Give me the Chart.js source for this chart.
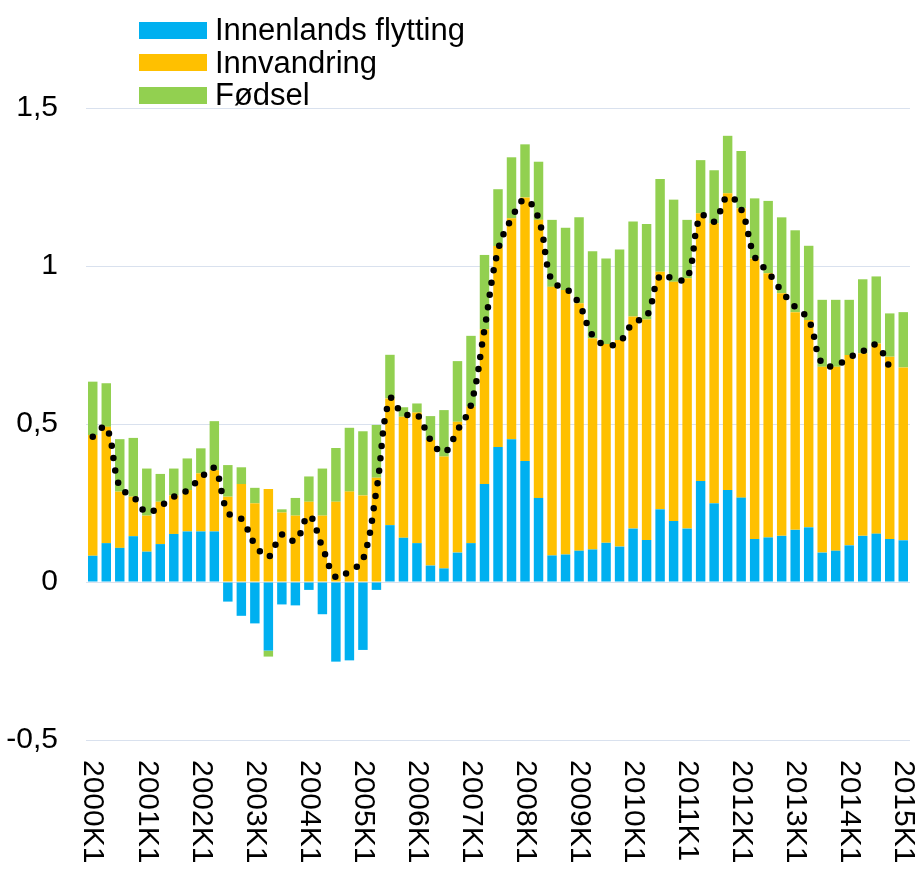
<!DOCTYPE html>
<html>
<head>
<meta charset="utf-8">
<script src="https://cdn.jsdelivr.net/npm/chart.js@4"></script>
<style>
    body { margin: 0; background: #fff; }
    .wrap { position: relative; width: 920px; height: 870px; }
    .legend { position: absolute; left: 139px; top: 14px; font-family: "Liberation Sans", Arial, sans-serif; font-size: 31px; color: #000; }
    .legend div { height: 32.5px; line-height: 32.5px; display: flex; align-items: center; }
    .legend span.box { display: inline-block; width: 68px; height: 17px; margin-right: 8px; }
</style>
</head>
<body>
<div class="wrap">
    <canvas id="chart" width="920" height="870"></canvas>
    <div class="legend">
        <div><span class="box" style="background:#00B0F0"></span>Innenlands flytting</div>
        <div><span class="box" style="background:#FFC000"></span>Innvandring</div>
        <div><span class="box" style="background:#92D050"></span>Fødsel</div>
    </div>
</div>
<script>
// Quarters 2000K1 .. 2015K1
const years = [2000, 2001, 2002, 2003, 2004, 2005, 2006, 2007, 2008, 2009, 2010, 2011, 2012, 2013, 2014, 2015];
const quarters = [];
years.forEach(function(y) {
    for (let q = 1; q <= 4; q++) {
        if (y === 2015 && q > 1) break;
        quarters.push(y + 'K' + q);
    }
});

const innenlands = [
    0.083, 0.123, 0.108, 0.145, 0.096, 0.120, 0.152, 0.160, 0.160, 0.160,
    -0.062, -0.107, -0.131, -0.217, -0.071, -0.074, -0.025, -0.102, -0.252, -0.248,
    -0.215, -0.025, 0.180, 0.140, 0.123, 0.052, 0.043, 0.093, 0.123, 0.310,
    0.427, 0.452, 0.383, 0.266, 0.084, 0.087, 0.099, 0.103, 0.124, 0.112,
    0.169, 0.133, 0.230, 0.193, 0.169, 0.320, 0.249, 0.291, 0.267, 0.136,
    0.141, 0.146, 0.165, 0.173, 0.093, 0.099, 0.116, 0.146, 0.153, 0.136,
    0.132
];
const innvandring = [
    0.382, 0.368, 0.178, 0.125, 0.114, 0.134, 0.122, 0.131, 0.184, 0.194,
    0.270, 0.310, 0.249, 0.294, 0.220, 0.210, 0.254, 0.210, 0.254, 0.286,
    0.274, 0.330, 0.401, 0.383, 0.413, 0.397, 0.354, 0.414, 0.432, 0.490,
    0.636, 0.699, 0.834, 0.880, 0.850, 0.837, 0.783, 0.668, 0.629, 0.654,
    0.671, 0.698, 0.752, 0.757, 0.792, 0.847, 0.886, 0.939, 0.916, 0.888,
    0.836, 0.768, 0.689, 0.656, 0.588, 0.582, 0.602, 0.578, 0.602, 0.577,
    0.547
];
const fodsel = [
    0.169, 0.138, 0.166, 0.186, 0.149, 0.088, 0.085, 0.100, 0.079, 0.155,
    0.100, 0.053, 0.049, -0.019, 0.010, 0.056, 0.080, 0.149, 0.170, 0.202,
    0.203, 0.167, 0.138, 0.030, 0.029, 0.076, 0.147, 0.192, 0.224, 0.235,
    0.180, 0.193, 0.168, 0.184, 0.212, 0.197, 0.272, 0.276, 0.271, 0.286,
    0.301, 0.302, 0.293, 0.260, 0.185, 0.168, 0.168, 0.182, 0.181, 0.190,
    0.229, 0.240, 0.259, 0.235, 0.212, 0.212, 0.175, 0.234, 0.212, 0.137,
    0.175
];
// Dotted line (net)
const nettoLinje = [
    0.46, 0.49, 0.30, 0.27, 0.22, 0.24, 0.27, 0.29, 0.33, 0.36,
    0.22, 0.20, 0.12, 0.08, 0.15, 0.13, 0.21, 0.11, 0.015, 0.035,
    0.07, 0.29, 0.58, 0.53, 0.53, 0.45, 0.41, 0.48, 0.56, 0.80,
    1.05, 1.15, 1.21, 1.15, 0.95, 0.93, 0.88, 0.78, 0.75, 0.76,
    0.82, 0.84, 0.97, 0.96, 0.96, 1.16, 1.14, 1.22, 1.18, 1.03,
    0.98, 0.92, 0.87, 0.83, 0.69, 0.685, 0.71, 0.73, 0.75, 0.68,
    null
];
const yTicks = [-0.5, 0, 0.5, 1, 1.5];

const FONT = '"Liberation Sans", Arial, sans-serif';

// Draw x labels rotated clockwise (top-to-bottom), one per year
const xLabelPlugin = {
    id: 'xLabels',
    afterDraw: function(chart) {
        const ctx = chart.ctx;
        const xs = chart.scales.x;
        ctx.save();
        ctx.font = '30px ' + FONT;
        ctx.fillStyle = '#000';
        ctx.textAlign = 'left';
        ctx.textBaseline = 'middle';
        quarters.forEach(function(lbl, i) {
            if (i % 4 !== 0) return;
            const x = xs.getPixelForValue(i);
            ctx.save();
            ctx.translate(x, 760);
            ctx.rotate(Math.PI / 2);
            ctx.fillText(lbl, 0, 0);
            ctx.restore();
        });
        ctx.restore();
    }
};

const ctx = document.getElementById('chart');
new Chart(ctx, {
    type: 'bar',
    data: {
        labels: quarters,
        datasets: [
            {
                type: 'line',
                label: 'Netto',
                data: nettoLinje,
                borderColor: '#000',
                borderWidth: 6.5,
                borderDash: [0, 12.5],
                borderCapStyle: 'round',
                pointRadius: 0,
                tension: 0.4,
                fill: false,
                stack: 'linje',
                order: 0
            },
            { label: 'Innenlands flytting', data: innenlands, backgroundColor: '#00B0F0', stack: 's', order: 1 },
            { label: 'Innvandring', data: innvandring, backgroundColor: '#FFC000', stack: 's', order: 1 },
            { label: 'Fødsel', data: fodsel, backgroundColor: '#92D050', stack: 's', order: 1 }
        ]
    },
    options: {
        responsive: false,
        animation: false,
        barPercentage: 0.7,
        categoryPercentage: 1,
        layout: { padding: { top: 108, right: 10, left: 0, bottom: 0 } },
        plugins: {
            legend: { display: false },
            tooltip: { enabled: false }
        },
        scales: {
            x: {
                stacked: true,
                grid: { display: false },
                border: { display: false },
                ticks: { display: false },
                afterFit: function(scale) { scale.height = 130; }
            },
            y: {
                stacked: true,
                min: -0.5,
                max: 1.5,
                afterBuildTicks: function(scale) {
                    scale.ticks = yTicks.map(function(v) { return { value: v }; });
                },
                grid: { color: '#D9E1EE', lineWidth: 1, drawTicks: false },
                border: { display: false },
                ticks: {
                    color: '#000',
                    font: { family: FONT, size: 30 },
                    padding: 28,
                    callback: function(v) { return String(v).replace('.', ','); }
                },
                afterFit: function(scale) { scale.width = 86; }
            }
        }
    },
    plugins: [xLabelPlugin]
});
</script>
</body>
</html>
